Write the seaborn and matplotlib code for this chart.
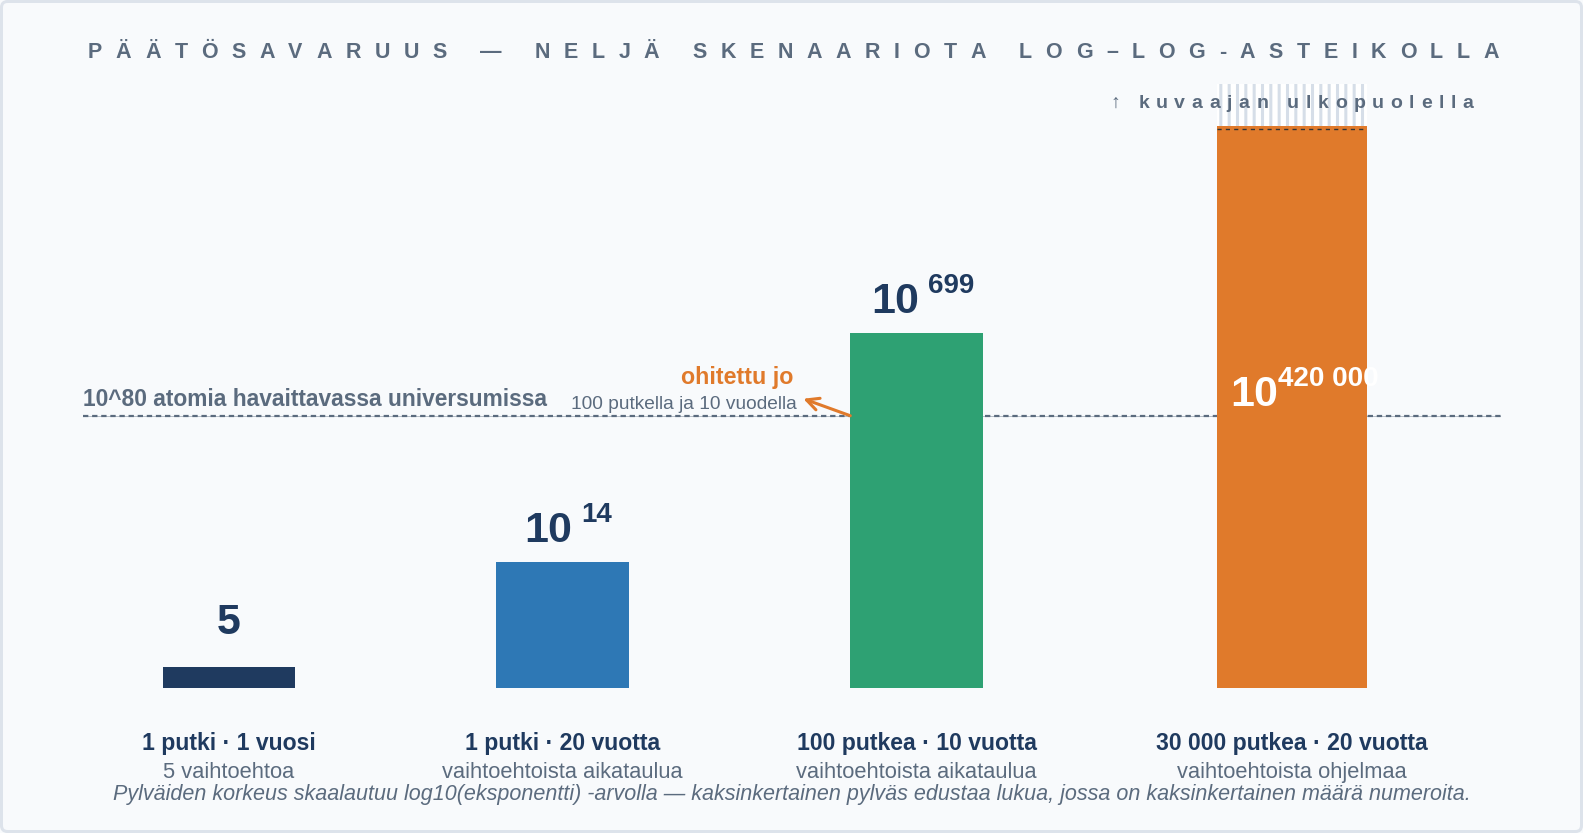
import matplotlib
matplotlib.use("Agg")
import pandas as pd
import seaborn as sns
import matplotlib.pyplot as plt
from matplotlib.patches import Rectangle, FancyBboxPatch
from matplotlib.transforms import IdentityTransform

# ============================================================
# Data
# ============================================================
scenarios = ["1 putki · 1 vuosi", "1 putki · 20 vuotta",
             "100 putkea · 10 vuotta", "30 000 putkea · 20 vuotta"]
sublabels = ["5 vaihtoehtoa", "vaihtoehtoista aikataulua",
             "vaihtoehtoista aikataulua", "vaihtoehtoista ohjelmaa"]
value_base = ["5", "10", "10", "10"]
value_exp = ["", "14", "699", "420 000"]
# bar heights in chart units (the last one runs off the top of the chart)
bar_height = [0.17, 1.01, 2.84, 5.62]
atoms_level = 2.18

title = "PÄÄTÖSAVARUUS — NELJÄ SKENAARIOTA LOG–LOG-ASTEIKOLLA"
atoms_text = "10^80 atomia havaittavassa universumissa"
passed_text = "ohitettu jo"
passed_sub = "100 putkella ja 10 vuodella"
outside_text = "↑ kuvaajan ulkopuolella"
footnote = ("Pylväiden korkeus skaalautuu log10(eksponentti) -arvolla — kaksinkertainen "
            "pylväs edustaa lukua, jossa on kaksinkertainen määrä numeroita.")

# ============================================================
# Styles / layout
# ============================================================
colors = ["#1f3a5f", "#2e78b5", "#2ea173", "#e07a2b"]
NAVY = "#1f3a5f"
GREY = "#5b6b7e"
ORANGE = "#e07a2b"
BG = "#f8fafc"
bar_w = [0.375, 0.375, 0.375, 0.423]
x_nudge = [0.0, -0.059, -0.059, 0.0]
YTOP = 4.5

W, H, DPI = 1583, 833, 100
PT = 72 / DPI

sns.set_theme(style="white")
plt.rcParams["font.family"] = ["Liberation Sans", "DejaVu Sans"]
plt.rcParams["hatch.linewidth"] = 2.2

fig = plt.figure(figsize=(W / DPI, H / DPI), dpi=DPI, facecolor=BG)
rend = fig.canvas.get_renderer()


def fx(x):
    return x / W


def fy(y):
    return 1 - y / H


def fit(t, width_px):
    w = t.get_window_extent(rend).width
    t.set_fontsize(t.get_fontsize() * width_px / w)


def spaced(text, x0, x1, baseline, size, **kw):
    pieces = [fig.text(0, 0, ch, fontsize=size, ha="left", va="baseline", **kw) for ch in text]
    pa = fig.text(0, 0, "n n", fontsize=size, **kw)
    pb = fig.text(0, 0, "nn", fontsize=size, **kw)
    sp = pa.get_window_extent(rend).width - pb.get_window_extent(rend).width
    pa.remove()
    pb.remove()
    widths = [sp if ch == " " else t.get_window_extent(rend).width for ch, t in zip(text, pieces)]
    gap = (x1 - x0 - sum(widths)) / (len(text) - 1)
    x = x0
    for t, w in zip(pieces, widths):
        t.set_position((fx(x), fy(baseline)))
        x += w + gap


# frame
fig.patches.append(FancyBboxPatch((1.5, 1.5), W - 3, H - 3, boxstyle="round,pad=0,rounding_size=6",
                                  transform=IdentityTransform(), fill=False,
                                  edgecolor="#dde3eb", linewidth=3 * PT))

# ============================================================
# Bars
# ============================================================
ax = fig.add_axes([fx(83), fy(688), 1418 / W, 562 / H])
ax.set_facecolor("none")

df = pd.DataFrame({"scenario": scenarios, "height": bar_height})
sns.barplot(data=df, x="scenario", y="height", hue="scenario", palette=colors,
            legend=False, ax=ax, saturation=1, width=0.375, linewidth=0, zorder=3)

for i, p in enumerate(ax.patches):
    p.set_width(bar_w[i])
    p.set_x(i + x_nudge[i] - bar_w[i] / 2)

ax.set_xlim(-0.412, 3.59)
ax.set_ylim(0, YTOP)
ax.set_xticks([])
ax.set_yticks([])
ax.set_xlabel("")
ax.set_ylabel("")
sns.despine(ax=ax, left=True, bottom=True)

# 10^80 reference line
ax.axhline(atoms_level, color=GREY, lw=0.6, alpha=0.5, zorder=1)
ax.axhline(atoms_level, color=GREY, lw=1.6, ls=(0, (2.4, 1.7)), zorder=1)

t = ax.annotate(atoms_text, xy=(0, atoms_level), xycoords=("axes fraction", "data"),
                xytext=(0, 10 * PT), textcoords="offset points", ha="left", va="baseline",
                fontsize=16, fontweight="bold", color=GREY)
fit(t, 465)

# annotation next to the green bar
left3 = 2 + x_nudge[2] - bar_w[2] / 2
t = ax.annotate(passed_sub, xy=(left3, atoms_level), xytext=(-54 * PT, 7 * PT),
                textcoords="offset points", ha="right", va="baseline", fontsize=14, color=GREY)
fit(t, 228)
t = ax.annotate(passed_text, xy=(left3, atoms_level), xytext=(-57 * PT, 32 * PT),
                textcoords="offset points", ha="right", va="baseline", fontsize=16,
                fontweight="bold", color=ORANGE)
fit(t, 112)
ax.annotate("", xy=(left3, atoms_level), xytext=(-47 * PT, 17 * PT), textcoords="offset points",
            arrowprops=dict(arrowstyle="<-", color=ORANGE, lw=2.2, shrinkA=0, shrinkB=0,
                            mutation_scale=22), zorder=4)


# value labels
def power_label(xy, base, exp, dx, dy, color, gap, center=True):
    t1 = ax.annotate(base, xy=xy, xytext=(0, 0), textcoords="offset points", ha="left",
                     va="baseline", fontsize=31, fontweight="bold", color=color, zorder=5,
                     annotation_clip=False)
    t2 = ax.annotate(exp, xy=xy, xytext=(0, 0), textcoords="offset points", ha="left",
                     va="baseline", fontsize=20, fontweight="bold", color=color, zorder=5,
                     annotation_clip=False)
    w1 = t1.get_window_extent(rend).width
    w2 = t2.get_window_extent(rend).width if exp else 0
    x0 = dx - (w1 + gap + w2) / 2 if center else dx
    t1.xyann = (x0 * PT, dy * PT)
    t2.xyann = ((x0 + w1 + gap) * PT, (dy + 20) * PT)


for i in range(3):
    c = i + x_nudge[i]
    if value_exp[i]:
        power_label((c, bar_height[i]), value_base[i], value_exp[i], 6, 20, NAVY, 9)
    else:
        ax.annotate(value_base[i], xy=(c, bar_height[i]), xytext=(0, 33 * PT),
                    textcoords="offset points", ha="center", va="baseline",
                    fontsize=31, fontweight="bold", color=NAVY)

left4 = 3 + x_nudge[3] - bar_w[3] / 2
power_label((left4, YTOP), value_base[3], value_exp[3], 13, -280, "white", 0, center=False)

# off-chart marker above the orange bar
ax.add_patch(Rectangle((left4, YTOP), bar_w[3], 42 / 124.9, facecolor="white",
                       edgecolor="#d6dee8", hatch="||", linewidth=0, clip_on=False, zorder=2))
ax.plot([left4, left4 + bar_w[3]], [YTOP - 0.024] * 2, color="#333333", lw=1.0,
        ls=(0, (3, 3)), clip_on=False, zorder=4)

# category labels
for i in range(4):
    c = i + x_nudge[i]
    t = ax.annotate(scenarios[i], xy=(c, 0), xytext=(0, -62 * PT), textcoords="offset points",
                    ha="center", va="baseline", fontsize=16, fontweight="bold", color=NAVY,
                    annotation_clip=False)
    s = ax.annotate(sublabels[i], xy=(c, 0), xytext=(0, -90 * PT), textcoords="offset points",
                    ha="center", va="baseline", fontsize=16, color=GREY, annotation_clip=False)
    if i == 0:
        fit(t, 173)
        fit(s, 132)
        bold_size, sub_size = t.get_fontsize(), s.get_fontsize()
    else:
        t.set_fontsize(bold_size)
        s.set_fontsize(sub_size)

# ============================================================
# Title and notes
# ============================================================
spaced(title, 88, 1499, 58, 15.5, fontweight="bold", color=GREY)
spaced(outside_text, 1110, 1473, 108, 14, fontweight="bold", color=GREY)

t = fig.text(fx(791.5), fy(800), footnote, ha="center", va="baseline", fontsize=14,
             style="italic", color=GREY)
fit(t, 1365)

fig.savefig("out.png", dpi=DPI, facecolor=BG)
